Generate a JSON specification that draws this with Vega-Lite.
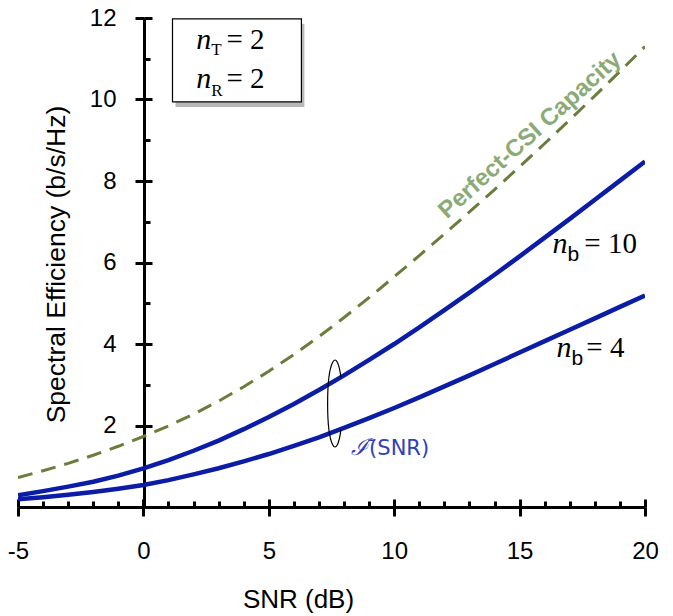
{
  "$schema": "https://vega.github.io/schema/vega-lite/v6.json",
  "width": 627,
  "height": 489,
  "autosize": {"type": "none"},
  "padding": {"left": 18, "top": 18, "right": 28, "bottom": 109},
  "background": "white",
  "config": {"view": {"stroke": null}, "axis": {"grid": false}},
  "datasets": {
    "curves": [
      {"snr": -5, "se": 0.72, "curve": "Perfect-CSI Capacity"},
      {"snr": -4, "se": 0.89, "curve": "Perfect-CSI Capacity"},
      {"snr": -3, "se": 1.07, "curve": "Perfect-CSI Capacity"},
      {"snr": -2, "se": 1.27, "curve": "Perfect-CSI Capacity"},
      {"snr": -1, "se": 1.49, "curve": "Perfect-CSI Capacity"},
      {"snr": 0, "se": 1.73, "curve": "Perfect-CSI Capacity"},
      {"snr": 1, "se": 1.99, "curve": "Perfect-CSI Capacity"},
      {"snr": 2, "se": 2.28, "curve": "Perfect-CSI Capacity"},
      {"snr": 3, "se": 2.6, "curve": "Perfect-CSI Capacity"},
      {"snr": 4, "se": 2.95, "curve": "Perfect-CSI Capacity"},
      {"snr": 5, "se": 3.33, "curve": "Perfect-CSI Capacity"},
      {"snr": 6, "se": 3.74, "curve": "Perfect-CSI Capacity"},
      {"snr": 7, "se": 4.18, "curve": "Perfect-CSI Capacity"},
      {"snr": 8, "se": 4.65, "curve": "Perfect-CSI Capacity"},
      {"snr": 9, "se": 5.14, "curve": "Perfect-CSI Capacity"},
      {"snr": 10, "se": 5.65, "curve": "Perfect-CSI Capacity"},
      {"snr": 11, "se": 6.17, "curve": "Perfect-CSI Capacity"},
      {"snr": 12, "se": 6.7, "curve": "Perfect-CSI Capacity"},
      {"snr": 13, "se": 7.24, "curve": "Perfect-CSI Capacity"},
      {"snr": 14, "se": 7.79, "curve": "Perfect-CSI Capacity"},
      {"snr": 15, "se": 8.35, "curve": "Perfect-CSI Capacity"},
      {"snr": 16, "se": 8.92, "curve": "Perfect-CSI Capacity"},
      {"snr": 17, "se": 9.5, "curve": "Perfect-CSI Capacity"},
      {"snr": 18, "se": 10.09, "curve": "Perfect-CSI Capacity"},
      {"snr": 19, "se": 10.69, "curve": "Perfect-CSI Capacity"},
      {"snr": 20, "se": 11.3, "curve": "Perfect-CSI Capacity"},
      {"snr": -5, "se": 0.29, "curve": "nb=10"},
      {"snr": -4, "se": 0.39, "curve": "nb=10"},
      {"snr": -3, "se": 0.5, "curve": "nb=10"},
      {"snr": -2, "se": 0.62, "curve": "nb=10"},
      {"snr": -1, "se": 0.77, "curve": "nb=10"},
      {"snr": 0, "se": 0.95, "curve": "nb=10"},
      {"snr": 1, "se": 1.15, "curve": "nb=10"},
      {"snr": 2, "se": 1.38, "curve": "nb=10"},
      {"snr": 3, "se": 1.63, "curve": "nb=10"},
      {"snr": 4, "se": 1.91, "curve": "nb=10"},
      {"snr": 5, "se": 2.21, "curve": "nb=10"},
      {"snr": 6, "se": 2.53, "curve": "nb=10"},
      {"snr": 7, "se": 2.87, "curve": "nb=10"},
      {"snr": 8, "se": 3.23, "curve": "nb=10"},
      {"snr": 9, "se": 3.61, "curve": "nb=10"},
      {"snr": 10, "se": 4.0, "curve": "nb=10"},
      {"snr": 11, "se": 4.41, "curve": "nb=10"},
      {"snr": 12, "se": 4.83, "curve": "nb=10"},
      {"snr": 13, "se": 5.26, "curve": "nb=10"},
      {"snr": 14, "se": 5.7, "curve": "nb=10"},
      {"snr": 15, "se": 6.15, "curve": "nb=10"},
      {"snr": 16, "se": 6.61, "curve": "nb=10"},
      {"snr": 17, "se": 7.07, "curve": "nb=10"},
      {"snr": 18, "se": 7.54, "curve": "nb=10"},
      {"snr": 19, "se": 8.01, "curve": "nb=10"},
      {"snr": 20, "se": 8.48, "curve": "nb=10"},
      {"snr": -5, "se": 0.19, "curve": "nb=4"},
      {"snr": -4, "se": 0.24, "curve": "nb=4"},
      {"snr": -3, "se": 0.3, "curve": "nb=4"},
      {"snr": -2, "se": 0.37, "curve": "nb=4"},
      {"snr": -1, "se": 0.45, "curve": "nb=4"},
      {"snr": 0, "se": 0.54, "curve": "nb=4"},
      {"snr": 1, "se": 0.66, "curve": "nb=4"},
      {"snr": 2, "se": 0.8, "curve": "nb=4"},
      {"snr": 3, "se": 0.95, "curve": "nb=4"},
      {"snr": 4, "se": 1.12, "curve": "nb=4"},
      {"snr": 5, "se": 1.3, "curve": "nb=4"},
      {"snr": 6, "se": 1.5, "curve": "nb=4"},
      {"snr": 7, "se": 1.71, "curve": "nb=4"},
      {"snr": 8, "se": 1.94, "curve": "nb=4"},
      {"snr": 9, "se": 2.18, "curve": "nb=4"},
      {"snr": 10, "se": 2.43, "curve": "nb=4"},
      {"snr": 11, "se": 2.69, "curve": "nb=4"},
      {"snr": 12, "se": 2.96, "curve": "nb=4"},
      {"snr": 13, "se": 3.23, "curve": "nb=4"},
      {"snr": 14, "se": 3.51, "curve": "nb=4"},
      {"snr": 15, "se": 3.79, "curve": "nb=4"},
      {"snr": 16, "se": 4.07, "curve": "nb=4"},
      {"snr": 17, "se": 4.35, "curve": "nb=4"},
      {"snr": 18, "se": 4.63, "curve": "nb=4"},
      {"snr": 19, "se": 4.91, "curve": "nb=4"},
      {"snr": 20, "se": 5.19, "curve": "nb=4"}
    ]
  },
  "resolve": {"axis": {"x": "independent", "y": "independent"}},
  "layer": [
    {
      "data": {"name": "curves"},
      "transform": [{"filter": "datum.curve === 'Perfect-CSI Capacity'"}],
      "mark": {"type": "line", "strokeDash": [15, 9], "strokeWidth": 3, "color": "#6b7d3c", "clip": true},
      "encoding": {
        "x": {
          "field": "snr", "type": "quantitative",
          "scale": {"domain": [-5, 20], "nice": false, "zero": false},
          "axis": {
            "orient": "bottom", "values": [-5, 0, 5, 10, 15, 20],
            "labelExpr": "datum.value < 0 ? '-' + (-datum.value) : '' + datum.value",
            "tickSize": 9, "tickWidth": 3, "tickColor": "black",
            "domainColor": "black", "domainWidth": 3,
            "labelFont": "Liberation Sans, sans-serif",
            "labelFontSize": 24, "labelColor": "black", "labelPadding": 23,
            "labelFlush": false, "labelOverlap": false,
            "title": "SNR (dB)",
            "titleFont": "Liberation Sans, sans-serif",
            "titleFontSize": 26, "titleFontWeight": "normal", "titleColor": "black",
            "titleX": 280, "titleY": 100, "titleAlign": "center", "titleBaseline": "alphabetic"
          }
        },
        "y": {
          "field": "se", "type": "quantitative",
          "scale": {"domain": [0, 12], "nice": false},
          "axis": {
            "orient": "left", "offset": -126, "values": [2, 4, 6, 8, 10, 12],
            "tickSize": 9, "tickWidth": 3, "tickColor": "black",
            "domainColor": "black", "domainWidth": 3,
            "labelFont": "Liberation Sans, sans-serif",
            "labelFontSize": 24, "labelColor": "black", "labelPadding": 19,
            "labelFlush": false, "labelOverlap": false,
            "title": "Spectral Efficiency (b/s/Hz)",
            "titleFont": "Liberation Sans, sans-serif",
            "titleFontSize": 26.5, "titleFontWeight": "normal", "titleColor": "black",
            "titleAngle": 270, "titleX": -80, "titleY": 246,
            "titleAlign": "center", "titleBaseline": "alphabetic"
          }
        }
      }
    },
    {
      "data": {"name": "curves"},
      "transform": [{"filter": "datum.curve !== 'Perfect-CSI Capacity'"}],
      "mark": {"type": "line", "strokeWidth": 4.5, "color": "#0b1ca6", "clip": true},
      "encoding": {
        "x": {
          "field": "snr", "type": "quantitative",
          "axis": {
            "orient": "top", "offset": -489,
            "values": [-5, -4, -3, -2, -1, 0, 1, 2, 3, 4, 5, 6, 7, 8, 9, 10, 11, 12, 13, 14, 15, 16, 17, 18, 19, 20],
            "tickSize": {"condition": {"test": "datum.value % 5 === 0", "value": 8}, "value": 6},
            "tickWidth": 3, "tickColor": "black",
            "labels": false, "domain": false, "title": null
          }
        },
        "y": {
          "field": "se", "type": "quantitative",
          "axis": {
            "orient": "right", "offset": -501,
            "values": [1, 2, 3, 4, 5, 6, 7, 8, 9, 10, 11, 12],
            "tickSize": {"condition": {"test": "datum.value % 2 === 0", "value": 8}, "value": 6},
            "tickWidth": 3, "tickColor": "black",
            "labels": false, "domain": false, "title": null
          }
        },
        "detail": {"field": "curve"}
      }
    },
    {
      "data": {"values": [{"x1": 1.16, "x2": 6.3, "y1": 11.98, "y2": 9.94}]},
      "mark": {"type": "rect", "fill": "#888888", "opacity": 0.6, "xOffset": 3, "x2Offset": 3, "yOffset": 5, "y2Offset": 5},
      "encoding": {
        "x": {"field": "x1", "type": "quantitative", "axis": null},
        "x2": {"field": "x2"},
        "y": {"field": "y1", "type": "quantitative", "axis": null},
        "y2": {"field": "y2"}
      }
    },
    {
      "data": {"values": [{"x1": 1.16, "x2": 6.3, "y1": 11.98, "y2": 9.94}]},
      "mark": {"type": "rect", "fill": "white", "stroke": "black", "strokeWidth": 1.2},
      "encoding": {
        "x": {"field": "x1", "type": "quantitative", "axis": null},
        "x2": {"field": "x2"},
        "y": {"field": "y1", "type": "quantitative", "axis": null},
        "y2": {"field": "y2"}
      }
    },
    {
      "data": {"values": [
        {"t": "n", "x": 2.11, "y": 11.24},
        {"t": "n", "x": 2.11, "y": 10.28},
        {"t": "n", "x": 16.31, "y": 6.23},
        {"t": "n", "x": 16.47, "y": 3.68}
      ]},
      "mark": {"type": "text", "font": "Liberation Serif, DejaVu Serif, serif", "fontStyle": "italic", "fontSize": 30, "align": "left", "baseline": "alphabetic", "color": "black"},
      "encoding": {
        "x": {"field": "x", "type": "quantitative", "axis": null},
        "y": {"field": "y", "type": "quantitative", "axis": null},
        "text": {"field": "t"}
      }
    },
    {
      "data": {"values": [
        {"t": "= 2", "x": 3.31, "y": 11.24},
        {"t": "= 2", "x": 3.31, "y": 10.28},
        {"t": "= 10", "x": 17.58, "y": 6.23},
        {"t": "= 4", "x": 17.66, "y": 3.68}
      ]},
      "mark": {"type": "text", "font": "Liberation Serif, DejaVu Serif, serif", "fontSize": 29, "align": "left", "baseline": "alphabetic", "color": "black"},
      "encoding": {
        "x": {"field": "x", "type": "quantitative", "axis": null},
        "y": {"field": "y", "type": "quantitative", "axis": null},
        "text": {"field": "t"}
      }
    },
    {
      "data": {"values": [
        {"t": "T", "x": 2.71, "y": 11.09},
        {"t": "R", "x": 2.71, "y": 10.09}
      ]},
      "mark": {"type": "text", "font": "Liberation Serif, DejaVu Serif, serif", "fontSize": 17, "align": "left", "baseline": "alphabetic", "color": "black"},
      "encoding": {
        "x": {"field": "x", "type": "quantitative", "axis": null},
        "y": {"field": "y", "type": "quantitative", "axis": null},
        "text": {"field": "t"}
      }
    },
    {
      "data": {"values": [
        {"t": "b", "x": 16.91, "y": 6.04},
        {"t": "b", "x": 17.07, "y": 3.48}
      ]},
      "mark": {"type": "text", "font": "Liberation Sans, sans-serif", "fontSize": 21, "align": "left", "baseline": "alphabetic", "color": "black"},
      "encoding": {
        "x": {"field": "x", "type": "quantitative", "axis": null},
        "y": {"field": "y", "type": "quantitative", "axis": null},
        "text": {"field": "t"}
      }
    },
    {
      "data": {"values": [{"t": "Perfect-CSI Capacity", "x": 15.42, "y": 9.12}]},
      "mark": {"type": "text", "font": "Liberation Sans, sans-serif", "fontWeight": "bold", "fontSize": 24, "angle": 318, "align": "center", "baseline": "middle", "color": "#8aab77"},
      "encoding": {
        "x": {"field": "x", "type": "quantitative", "axis": null},
        "y": {"field": "y", "type": "quantitative", "axis": null},
        "text": {"field": "t"}
      }
    },
    {
      "data": {"values": [{"t": "ℐ̄", "x": 8.29, "y": 1.28}]},
      "mark": {"type": "text", "font": "DejaVu Serif, serif", "fontStyle": "italic", "fontSize": 23, "align": "left", "baseline": "alphabetic", "color": "#3040b8"},
      "encoding": {
        "x": {"field": "x", "type": "quantitative", "axis": null},
        "y": {"field": "y", "type": "quantitative", "axis": null},
        "text": {"field": "t"}
      }
    },
    {
      "data": {"values": [{"t": "(SNR)", "x": 9.0, "y": 1.28}]},
      "mark": {"type": "text", "font": "DejaVu Sans, sans-serif", "fontSize": 21, "align": "left", "baseline": "alphabetic", "color": "#3040b8"},
      "encoding": {
        "x": {"field": "x", "type": "quantitative", "axis": null},
        "y": {"field": "y", "type": "quantitative", "axis": null},
        "text": {"field": "t"}
      }
    },
    {
      "data": {"values": [{"x": 7.64, "y": 2.54}]},
      "mark": {"type": "point", "shape": "M 0.136 -0.6 A 0.17 1 0 1 0 0.136 0.6", "size": 7569, "filled": false, "stroke": "black", "strokeWidth": 1.2, "opacity": 1},
      "encoding": {
        "x": {"field": "x", "type": "quantitative", "axis": null},
        "y": {"field": "y", "type": "quantitative", "axis": null}
      }
    }
  ]
}
